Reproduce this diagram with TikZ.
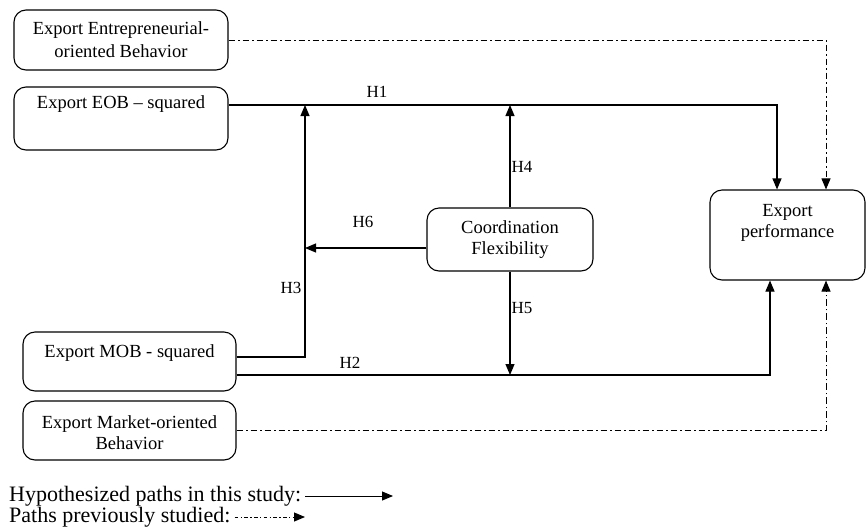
\documentclass[tikz,border=0pt]{standalone}
\usepackage{fontspec}
\setmainfont{Liberation Serif}
\usetikzlibrary{arrows.meta}
\begin{document}
\begin{tikzpicture}[x=1pt,y=-1pt,
  box/.style={draw, rounded corners=12pt, line width=1.1pt, inner sep=0pt},
  lbl/.style={font=\fontsize{18.5}{21}\selectfont, align=center, inner sep=0pt},
  hl/.style={font=\fontsize{17}{20}\selectfont, inner sep=0pt},
  legend/.style={font=\fontsize{22}{24}\selectfont, inner sep=0pt, anchor=west},
  hyp/.style={line width=1.1pt, -{Triangle[length=11pt,width=9pt]}},
  prev/.style={line width=1pt, dash pattern=on 6.5pt off 3pt on 1.5pt off 3pt, -{Triangle[length=11pt,width=9pt]}},
  prevleg/.style={line width=1pt, dash pattern=on 3.5pt off 2.5pt on 1.2pt off 2.5pt, -{Triangle[length=11pt,width=9pt]}},
]
\useasboundingbox (0,0) rectangle (866,528);
% boxes
\node[box, minimum width=214pt, minimum height=60pt] (eeob) at (121,40) {};
\node[box, minimum width=214pt, minimum height=63pt] (eobsq) at (121,118.5) {};
\node[box, minimum width=213pt, minimum height=59pt] (mobsq) at (129.5,361.5) {};
\node[box, minimum width=213pt, minimum height=59pt] (emob) at (129.5,430.5) {};
\node[box, minimum width=166pt, minimum height=63pt] (coord) at (510,239.5) {};
\node[box, minimum width=155pt, minimum height=90pt] (perf) at (787.5,235) {};
% box texts
\node[lbl, font=\fontsize{18.5}{23}\selectfont] (eeobt) at (eeob) {Export Entrepreneurial-\\oriented Behavior};
\node[lbl] (eobsqt) at (121,104) {Export EOB -- squared};
\node[lbl] (mobsqt) at (129.5,353) {Export MOB - squared};
\node[lbl] (emobt) at (129.5,433) {Export Market-oriented\\Behavior};
\node[lbl] (coordt) at (510,240) {Coordination\\Flexibility};
\node[lbl] (perft) at (787.5,223) {Export\\performance};
% hypothesized paths
\draw[hyp] (eobsq.east |- 0,105) -| (perf.north -| 777,0);
\draw[hyp] (mobsq.east |- 0,357) -| (305,105);
\draw[hyp] (mobsq.east |- 0,375) -| (perf.south -| 770,0);
\draw[hyp] (coord.north) -- (coord.north |- 0,105);
\draw[hyp] (coord.south) -- (coord.south |- 0,375);
\draw[hyp] (coord.west |- 0,248) -- (305,248);
% previously studied
\draw[prev] (eeob.east) -| (perf.north -| 826,0);
\draw[prev] (emob.east) -| (perf.south -| 826,0);
% labels
\node[hl] (h1) at (377,92) {H1};
\node[hl] (h2) at (350,363) {H2};
\node[hl] (h3) at (291,288) {H3};
\node[hl] (h4) at (522,167) {H4};
\node[hl] (h5) at (522,308) {H5};
\node[hl] (h6) at (363,222) {H6};
% legend
\node[legend] (leg1) at (9,496) {Hypothesized paths in this study:};
\coordinate (leg1e) at (393,496);
\draw[hyp, line width=0.9pt] ([xshift=4pt]leg1.east) -- (leg1e);
\node[legend] (leg2) at (9,517) {Paths previously studied:};
\coordinate (leg2e) at (305,517);
\draw[prevleg] ([xshift=4pt]leg2.east) -- (leg2e);
\end{tikzpicture}
\end{document}
